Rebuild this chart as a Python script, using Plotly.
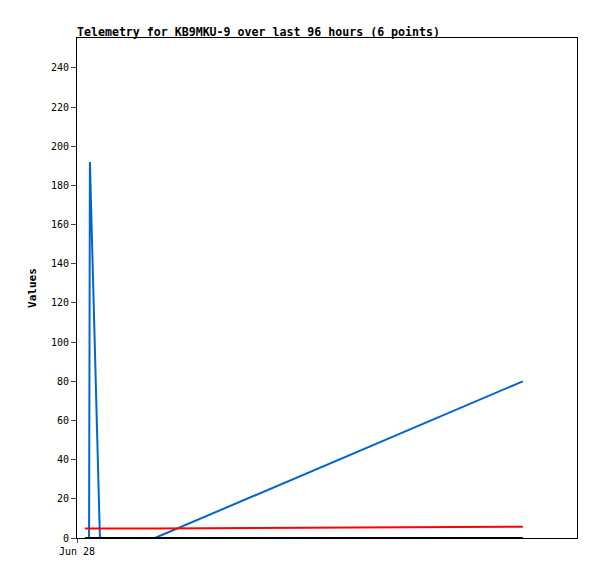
import plotly.graph_objects as go

# telemetry samples (6 points)
times = [
    "2024-06-28 00:19", "2024-06-28 00:29", "2024-06-28 00:31",
    "2024-06-28 00:55", "2024-06-28 03:07", "2024-06-28 17:50",
]
blue_vals = [0, 0, 192, 0, 0, 80]
red_vals = [4.8, 4.8, 4.8, 4.8, 4.9, 5.8]
black_vals = [0, 0, 0, 0, 0, 0]

x_range = ["2024-06-28 00:00", "2024-06-28 20:00"]
y_ticks = list(range(0, 241, 20))

MONO = "DejaVu Sans Mono, monospace"

fig = go.Figure()
fig.add_trace(go.Scatter(x=times, y=blue_vals, mode="lines",
                         line=dict(color="#0066cc", width=2), showlegend=False))
fig.add_trace(go.Scatter(x=times, y=red_vals, mode="lines",
                         line=dict(color="#ff0000", width=2), showlegend=False))
fig.add_trace(go.Scatter(x=times, y=black_vals, mode="lines",
                         line=dict(color="#000000", width=2), showlegend=False))

# page body has an 8px margin, so offsets are shifted accordingly
fig.update_layout(
    width=589, height=571,
    margin=dict(l=69, r=20, t=30, b=41),
    paper_bgcolor="white", plot_bgcolor="white",
    font=dict(family=MONO, size=10, color="black"),
    title=dict(text="<b>Telemetry for KB9MKU-9 over last 96 hours (6 points)</b>",
               x=0, xref="paper", xanchor="left",
               y=1, yref="paper", yanchor="bottom", pad=dict(b=2),
               font=dict(family=MONO, size=11.6, color="black")),
    xaxis=dict(type="date", range=x_range, tickvals=[x_range[0]],
               tickformat="%b %d", ticks="outside", ticklen=4,
               showgrid=False, zeroline=False,
               showline=True, mirror=True, linecolor="black", linewidth=1),
    yaxis=dict(range=[0, 255.3], tickvals=y_ticks, ticks="outside", ticklen=5,
               showgrid=False, zeroline=False,
               showline=True, mirror=True, linecolor="black", linewidth=1,
               title=dict(text="<b>Values</b>", standoff=12,
                          font=dict(family=MONO, size=11))),
)

fig.write_html("out.html")
